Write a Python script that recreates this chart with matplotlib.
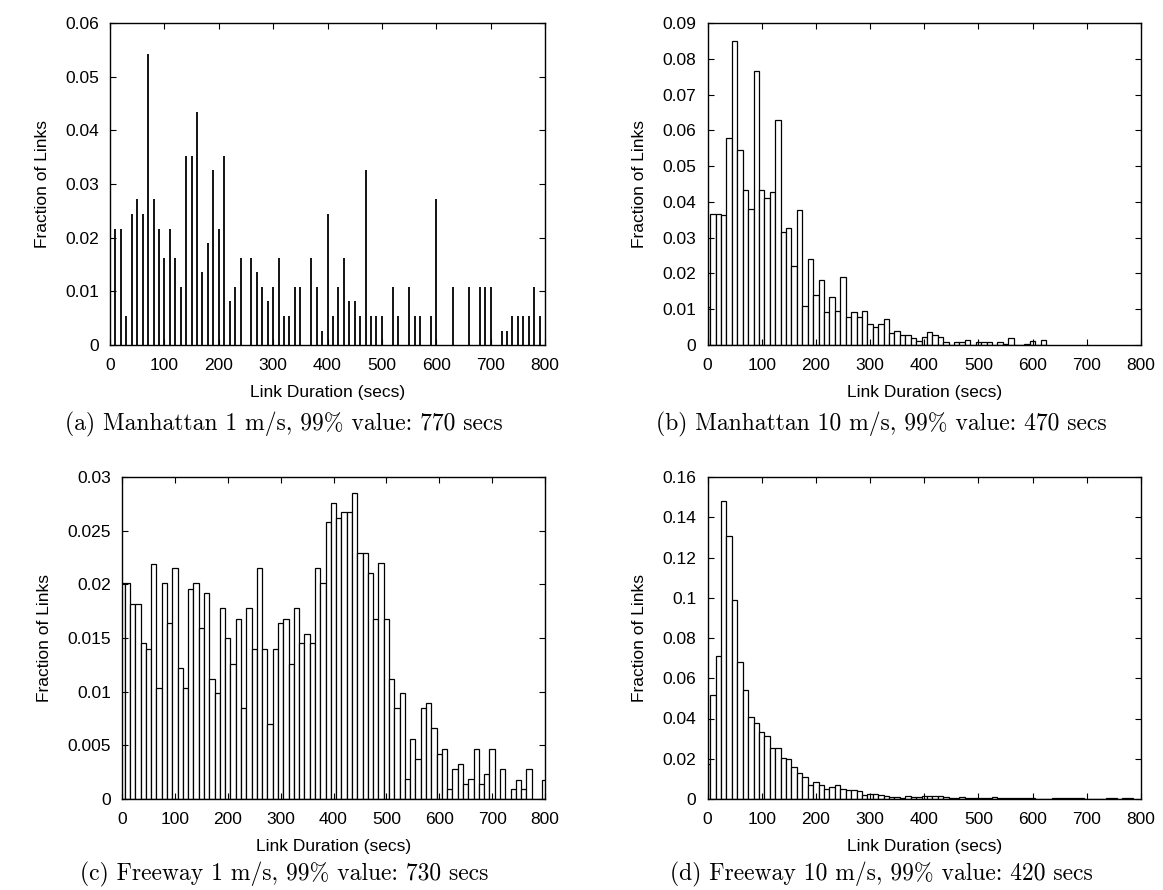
import matplotlib
matplotlib.use('Agg')
import matplotlib.pyplot as plt

# ---------------- data ----------------
x_ticks = [0, 100, 200, 300, 400, 500, 600, 700, 800]

# (a) Manhattan 1 m/s : sparse bars (secs, fraction of links)
a_secs = [10, 20, 30, 40, 50, 60, 70, 80, 90, 100, 110, 120, 130, 140, 150, 160,
          170, 180, 190, 200, 210, 220, 230, 240, 260, 270, 280, 290, 300, 310,
          320, 330, 340, 350, 370, 380, 390, 400, 410, 420, 430, 440, 450, 460,
          470, 480, 490, 500, 520, 530, 550, 560, 570, 590, 600, 630, 660, 680,
          690, 700, 720, 730, 740, 750, 760, 770, 780, 790]
a_frac = [0.0217, 0.0217, 0.0054, 0.0245, 0.0272, 0.0245, 0.0543, 0.0272, 0.0217,
          0.0163, 0.0217, 0.0163, 0.0109, 0.0353, 0.0353, 0.0435, 0.0136, 0.0190,
          0.0326, 0.0217, 0.0353, 0.0082, 0.0109, 0.0163, 0.0163, 0.0136, 0.0109,
          0.0082, 0.0109, 0.0163, 0.0054, 0.0054, 0.0109, 0.0109, 0.0163, 0.0109,
          0.0027, 0.0245, 0.0054, 0.0109, 0.0163, 0.0082, 0.0082, 0.0054, 0.0326,
          0.0054, 0.0054, 0.0054, 0.0109, 0.0054, 0.0109, 0.0054, 0.0054, 0.0054,
          0.0272, 0.0109, 0.0109, 0.0109, 0.0109, 0.0109, 0.0027, 0.0027, 0.0054,
          0.0054, 0.0054, 0.0054, 0.0109, 0.0054]
a_yticks = [0, 0.01, 0.02, 0.03, 0.04, 0.05, 0.06]
a_ylabels = ['0', '0.01', '0.02', '0.03', '0.04', '0.05', '0.06']

# (b) Manhattan 10 m/s : 10-sec bins centred at 0, 10, 20, ...
b_secs = list(range(0, 630, 10))
b_frac = [0.0107, 0.0367, 0.0367, 0.0362, 0.0579, 0.0849, 0.0545, 0.0433, 0.0379,
          0.0766, 0.0433, 0.0412, 0.0428, 0.0630, 0.0315, 0.0328, 0.0221, 0.0378,
          0.0108, 0.0241, 0.0141, 0.0182, 0.0091, 0.0133, 0.0095, 0.0191, 0.0078,
          0.0091, 0.0079, 0.0095, 0.0059, 0.0049, 0.0059, 0.0074, 0.0034, 0.0040,
          0.0028, 0.0028, 0.0019, 0.0011, 0.0023, 0.0035, 0.0028, 0.0023, 0.0007,
          0.0000, 0.0007, 0.0007, 0.0015, 0.0000, 0.0007, 0.0007, 0.0007, 0.0000,
          0.0007, 0.0004, 0.0019, 0.0000, 0.0000, 0.0004, 0.0011, 0.0000, 0.0015]
b_yticks = [0, 0.01, 0.02, 0.03, 0.04, 0.05, 0.06, 0.07, 0.08, 0.09]
b_ylabels = ['0', '0.01', '0.02', '0.03', '0.04', '0.05', '0.06', '0.07', '0.08', '0.09']

# (c) Freeway 1 m/s
c_secs = list(range(0, 810, 10))
c_frac = [0.0201, 0.0201, 0.0182, 0.0182, 0.0145, 0.0140, 0.0219, 0.0103, 0.0201,
          0.0164, 0.0215, 0.0122, 0.0103, 0.0196, 0.0201, 0.0159, 0.0192, 0.0112,
          0.0099, 0.0178, 0.0150, 0.0126, 0.0168, 0.0085, 0.0178, 0.0140, 0.0215,
          0.0140, 0.0070, 0.0140, 0.0164, 0.0168, 0.0126, 0.0178, 0.0145, 0.0154,
          0.0145, 0.0215, 0.0201, 0.0258, 0.0276, 0.0262, 0.0267, 0.0267, 0.0285,
          0.0229, 0.0229, 0.0211, 0.0168, 0.0220, 0.0168, 0.0112, 0.0085, 0.0099,
          0.0019, 0.0056, 0.0037, 0.0085, 0.0089, 0.0066, 0.0042, 0.0047, 0.0009,
          0.0028, 0.0033, 0.0014, 0.0019, 0.0047, 0.0014, 0.0023, 0.0047, 0.0000,
          0.0028, 0.0000, 0.0009, 0.0018, 0.0009, 0.0028, 0.0000, 0.0000, 0.0018]
c_yticks = [0, 0.005, 0.01, 0.015, 0.02, 0.025, 0.03]
c_ylabels = ['0', '0.005', '0.01', '0.015', '0.02', '0.025', '0.03']

# (d) Freeway 10 m/s
d_secs = list(range(0, 790, 10))
d_frac = [0.0176, 0.0518, 0.0709, 0.1479, 0.1305, 0.0990, 0.0682, 0.0540, 0.0409,
          0.0378, 0.0333, 0.0315, 0.0251, 0.0251, 0.0205, 0.0197, 0.0161, 0.0129,
          0.0109, 0.0071, 0.0083, 0.0070, 0.0051, 0.0060, 0.0070, 0.0050, 0.0045,
          0.0046, 0.0038, 0.0021, 0.0026, 0.0026, 0.0021, 0.0017, 0.0010, 0.0010,
          0.0005, 0.0013, 0.0008, 0.0008, 0.0013, 0.0013, 0.0013, 0.0013, 0.0008,
          0.0005, 0.0005, 0.0010, 0.0005, 0.0005, 0.0005, 0.0004, 0.0005, 0.0008,
          0.0006, 0.0005, 0.0005, 0.0005, 0.0005, 0.0005, 0.0004, 0.0000, 0.0000,
          0.0000, 0.0003, 0.0003, 0.0003, 0.0003, 0.0003, 0.0003, 0.0000, 0.0000,
          0.0000, 0.0000, 0.0003, 0.0003, 0.0000, 0.0003, 0.0003]
d_yticks = [0, 0.02, 0.04, 0.06, 0.08, 0.10, 0.12, 0.14, 0.16]
d_ylabels = ['0', '0.02', '0.04', '0.06', '0.08', '0.1', '0.12', '0.14', '0.16']

captions = ['(a) Manhattan 1 m/s, 99% value: 770 secs',
            '(b) Manhattan 10 m/s, 99% value: 470 secs',
            '(c) Freeway 1 m/s, 99% value: 730 secs',
            '(d) Freeway 10 m/s, 99% value: 420 secs']

# ---------------- layout ----------------
W, H = 1163, 890
fig = plt.figure(figsize=(W / 100, H / 100), dpi=100)

SANS = 'Liberation Sans'
TICK_FS = 12.5


def add_ax(left, right, top, bottom):
    return fig.add_axes([left / W, 1 - bottom / H, (right - left) / W, (bottom - top) / H])


def style(ax, yticks, ylabels, ymax):
    ax.set_xlim(0, 800)
    ax.set_ylim(0, ymax)
    ax.set_xticks(x_ticks)
    ax.set_xticklabels([str(t) for t in x_ticks], fontfamily=SANS, fontsize=TICK_FS)
    ax.set_yticks(yticks)
    ax.set_yticklabels(ylabels, fontfamily=SANS, fontsize=TICK_FS)
    ax.tick_params(axis='x', pad=9)
    ax.tick_params(axis='y', pad=8)
    ax.tick_params(direction='in', top=True, right=True, length=4, width=0.8,
                   colors='black')
    for s in ax.spines.values():
        s.set_linewidth(1.0)
    ax.set_xlabel('Link Duration (secs)', fontfamily=SANS, fontsize=TICK_FS, labelpad=9)
    ax.set_ylabel('Fraction of Links', fontfamily=SANS, fontsize=TICK_FS, labelpad=11)


def boxes(ax, secs, frac):
    ax.bar(secs, frac, width=10, align='center', color='white',
           edgecolor='black', linewidth=0.9)


axa = add_ax(110, 545, 23, 345)
axa.vlines(a_secs, 0, a_frac, colors='black', linewidth=1.3)
style(axa, a_yticks, a_ylabels, 0.06)

axb = add_ax(707.5, 1141, 23, 345)
boxes(axb, b_secs, b_frac)
style(axb, b_yticks, b_ylabels, 0.09)

axc = add_ax(122, 545, 477, 799)
boxes(axc, c_secs, c_frac)
style(axc, c_yticks, c_ylabels, 0.03)

axd = add_ax(707.5, 1141, 477, 799)
boxes(axd, d_secs, d_frac)
style(axd, d_yticks, d_ylabels, 0.16)

CAP_FS = 17
cap_pos = [(284, 424), (881, 424), (284, 874), (881, 874)]
for (cx, cy), txt in zip(cap_pos, captions):
    fig.text(cx / W, 1 - cy / H, txt, ha='center', va='center',
             fontfamily='cmr10', fontsize=CAP_FS)

fig.savefig('out.png', dpi=100)
